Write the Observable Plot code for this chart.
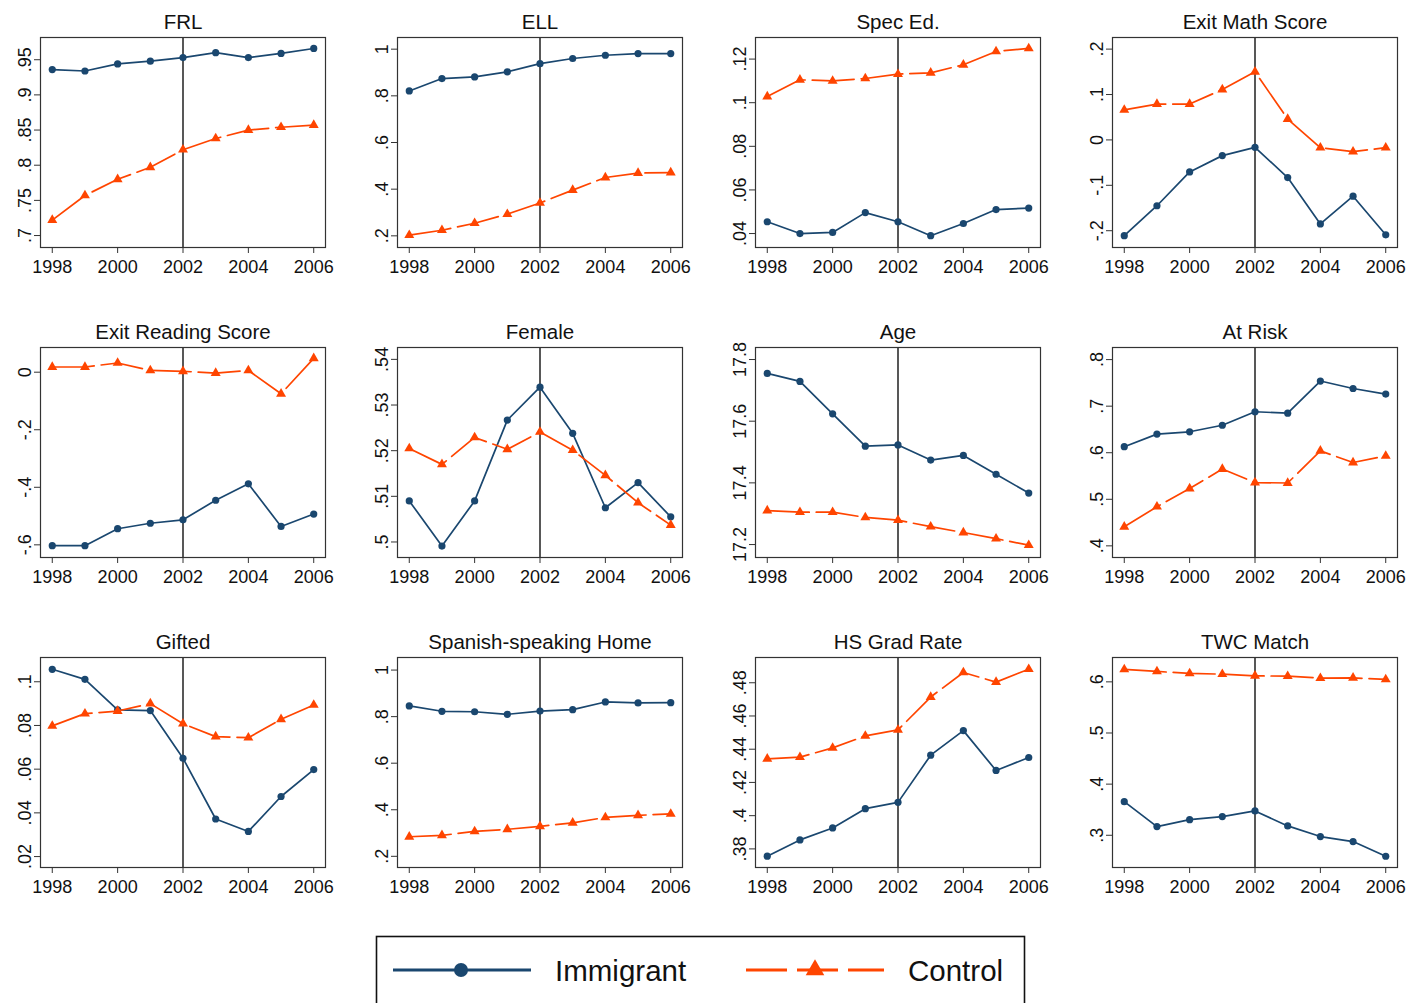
<!DOCTYPE html>
<html>
<head>
<meta charset="utf-8">
<script src="https://cdn.jsdelivr.net/npm/d3@7"></script>
<script src="https://cdn.jsdelivr.net/npm/@observablehq/plot@0.6"></script>
<style>
  html, body { margin: 0; padding: 0; background: #fff; }
  #chart { position: relative; width: 1409px; height: 1003px; overflow: hidden;
           font-family: "Liberation Sans", Arial, Helvetica, sans-serif; color: #111; }
  .panel { position: absolute; }
  #legend { position: absolute; left: 0; top: 900px; }
</style>
</head>
<body>
<div id="chart"></div>
<script>
// School years and the policy change year
const years = [1998, 1999, 2000, 2001, 2002, 2003, 2004, 2005, 2006];
const xTicks = [1998, 2000, 2002, 2004, 2006];
const policyYear = 2002;

const seriesNames = ["Immigrant", "Control"];

// Panel titles
const titles = ["FRL", "ELL", "Spec Ed.", "Exit Math Score",
                "Exit Reading Score", "Female", "Age", "At Risk",
                "Gifted", "Spanish-speaking Home", "HS Grad Rate", "TWC Match"];

// Group means by year
const frlImmigrant = [0.936, 0.934, 0.944, 0.948, 0.953, 0.960, 0.953, 0.959, 0.966];
const frlControl   = [0.722, 0.757, 0.780, 0.797, 0.822, 0.838, 0.850, 0.854, 0.857];
const ellImmigrant = [0.821, 0.874, 0.881, 0.903, 0.938, 0.960, 0.974, 0.981, 0.981];
const ellControl   = [0.203, 0.224, 0.254, 0.293, 0.341, 0.396, 0.450, 0.469, 0.471];
const specImmigrant = [0.0454, 0.0400, 0.0405, 0.0496, 0.0454, 0.0390, 0.0446, 0.0510, 0.0517];
const specControl   = [0.1028, 0.1105, 0.1100, 0.1111, 0.1131, 0.1137, 0.1174, 0.1235, 0.1249];
const mathImmigrant = [-0.211, -0.145, -0.0705, -0.0346, -0.0163, -0.083, -0.185, -0.124, -0.209];
const mathControl   = [0.066, 0.079, 0.079, 0.111, 0.150, 0.046, -0.017, -0.026, -0.017];
const readImmigrant = [-0.603, -0.603, -0.544, -0.525, -0.513, -0.445, -0.388, -0.536, -0.493];
const readControl   = [0.018, 0.018, 0.032, 0.006, 0.003, -0.003, 0.006, -0.075, 0.048];
const femaleImmigrant = [0.509, 0.4991, 0.509, 0.5267, 0.5339, 0.5238, 0.5075, 0.513, 0.5055];
const femaleControl   = [0.5205, 0.517, 0.5229, 0.5203, 0.5241, 0.5201, 0.5146, 0.5086, 0.5037];
const ageImmigrant = [17.755, 17.729, 17.624, 17.519, 17.523, 17.474, 17.489, 17.428, 17.367];
const ageControl   = [17.310, 17.305, 17.305, 17.288, 17.279, 17.258, 17.239, 17.219, 17.198];
const riskImmigrant = [0.613, 0.640, 0.645, 0.659, 0.688, 0.685, 0.754, 0.738, 0.726];
const riskControl   = [0.441, 0.484, 0.523, 0.565, 0.536, 0.535, 0.604, 0.579, 0.593];
const giftedImmigrant = [0.1057, 0.1011, 0.0871, 0.0868, 0.065, 0.0372, 0.0315, 0.0475, 0.0598];
const giftedControl   = [0.0798, 0.0854, 0.0866, 0.0900, 0.0808, 0.0749, 0.0744, 0.0828, 0.0894];
const spanishImmigrant = [0.846, 0.823, 0.821, 0.810, 0.824, 0.830, 0.863, 0.859, 0.860];
const spanishControl   = [0.284, 0.290, 0.307, 0.316, 0.329, 0.344, 0.367, 0.376, 0.382];
const gradImmigrant = [0.3756, 0.3854, 0.3926, 0.4042, 0.408, 0.4364, 0.4512, 0.4272, 0.435];
const gradControl   = [0.4342, 0.4352, 0.4408, 0.448, 0.4516, 0.4714, 0.4862, 0.4804, 0.4882];
const twcImmigrant = [0.3657, 0.317, 0.3306, 0.3365, 0.3476, 0.3183, 0.2975, 0.2877, 0.259];
const twcControl   = [0.6242, 0.6203, 0.6164, 0.615, 0.6117, 0.6111, 0.6072, 0.6078, 0.6047];

// Y-axis tick labels per panel
const frlTicks = [0.7, 0.75, 0.8, 0.85, 0.9, 0.95];
const ellTicks = [0.2, 0.4, 0.6, 0.8, 1];
const specTicks = [0.04, 0.06, 0.08, 0.1, 0.12];
const mathTicks = [-0.2, -0.1, 0, 0.1, 0.2];
const readTicks = [-0.6, -0.4, -0.2, 0];
const femaleTicks = [0.5, 0.51, 0.52, 0.53, 0.54];
const ageTicks = [17.2, 17.4, 17.6, 17.8];
const riskTicks = [0.4, 0.5, 0.6, 0.7, 0.8];
const giftedTicks = [0.02, 0.04, 0.06, 0.08, 0.1];
const spanishTicks = [0.2, 0.4, 0.6, 0.8, 1];
const gradTicks = [0.38, 0.4, 0.42, 0.44, 0.46, 0.48];
const twcTicks = [0.3, 0.4, 0.5, 0.6];

// Scale extents (plot region) per panel
const yExtents = [
  [0.683, 0.9816], [0.15, 1.05], [0.0336, 0.1299], [-0.237, 0.2256],
  [-0.644, 0.0858], [0.4966, 0.5426], [17.158, 17.839], [0.375, 0.826],
  [0.015, 0.1111], [0.152, 1.054], [0.3688, 0.4952], [0.237, 0.6476]
];

const immigrantSeries = [frlImmigrant, ellImmigrant, specImmigrant, mathImmigrant,
  readImmigrant, femaleImmigrant, ageImmigrant, riskImmigrant,
  giftedImmigrant, spanishImmigrant, gradImmigrant, twcImmigrant];
const controlSeries = [frlControl, ellControl, specControl, mathControl,
  readControl, femaleControl, ageControl, riskControl,
  giftedControl, spanishControl, gradControl, twcControl];
const tickSets = [frlTicks, ellTicks, specTicks, mathTicks, readTicks, femaleTicks,
  ageTicks, riskTicks, giftedTicks, spanishTicks, gradTicks, twcTicks];

const NAVY = "#1a476f";
const ORANGE = "#ff4500";
const DASH = "42,7";
const FONT = '"Liberation Sans", Arial, Helvetica, sans-serif';

// Stata-style numbers: drop the leading zero (".95", "-.2")
const fmt = v => String(+v.toFixed(4)).replace(/^(-?)0\./, "$1.");

const chart = document.getElementById("chart");

// Panel geometry
const FW = 285, FH = 210;
const ML = 40, MT = 37, MR = 12, MB = 35;

titles.forEach((title, i) => {
  const col = i % 4, row = Math.floor(i / 4);
  const frameLeft = 39.5 + col * 357.6;
  const frameTop = 36.7 + row * 310.3;

  const table = years.map((year, j) => ({
    year,
    immigrant: immigrantSeries[i][j],
    control: controlSeries[i][j]
  }));

  const svg = Plot.plot({
    width: ML + FW + MR,
    height: MT + FH + MB,
    marginLeft: ML, marginRight: MR, marginTop: MT, marginBottom: MB,
    style: { fontFamily: FONT, fontSize: "18px", color: "#111", background: "white", overflow: "visible" },
    x: { domain: [1997.64, 2006.36], label: null },
    y: { domain: yExtents[i], label: null },
    marks: [
      Plot.ruleX([policyYear], { stroke: "#111", strokeWidth: 1.4 }),
      Plot.line(table, { x: "year", y: "immigrant", stroke: NAVY, strokeWidth: 1.7 }),
      Plot.dot(table, { x: "year", y: "immigrant", fill: NAVY, r: 3.6 }),
      Plot.line(table, { x: "year", y: "control", stroke: ORANGE, strokeWidth: 1.7, strokeDasharray: DASH }),
      Plot.dot(table, { x: "year", y: "control", symbol: "triangle", fill: ORANGE, r: 3.7 }),
      Plot.frame({ stroke: "#333", strokeWidth: 1.2 }),
      Plot.axisX(xTicks, { tickSize: 6, tickPadding: 7, tickFormat: d => String(d), fontSize: 18, label: null, stroke: "#333" }),
      Plot.axisY(tickSets[i], { tickSize: 6, tickPadding: 3.3, tickRotate: -90, tickFormat: fmt, fontSize: 18, label: null, stroke: "#333" }),
      Plot.text([title], { frameAnchor: "top", lineAnchor: "middle", dy: -15, fontSize: 20.5, text: d => d, fill: "#111" })
    ]
  });
  svg.classList.add("panel");
  svg.style.left = (frameLeft - ML) + "px";
  svg.style.top = (frameTop - MT) + "px";
  chart.appendChild(svg);
});

// Legend box below the panels
const legend = d3.select(chart).append("svg")
  .attr("id", "legend")
  .attr("width", 1409)
  .attr("height", 103);

legend.append("rect")
  .attr("x", 376.5).attr("y", 36.5)
  .attr("width", 648).attr("height", 90)
  .attr("fill", "white").attr("stroke", "#111").attr("stroke-width", 1.6);

const keyY = 70;
// Immigrant key
legend.append("line")
  .attr("x1", 393).attr("x2", 531).attr("y1", keyY).attr("y2", keyY)
  .attr("stroke", NAVY).attr("stroke-width", 3);
legend.append("circle")
  .attr("cx", 461).attr("cy", keyY).attr("r", 7).attr("fill", NAVY);
legend.append("text")
  .attr("x", 555).attr("y", keyY + 11)
  .attr("font-family", FONT).attr("font-size", 29.5).attr("fill", "#111")
  .text(seriesNames[0]);

// Control key
legend.append("line")
  .attr("x1", 746).attr("x2", 884).attr("y1", keyY).attr("y2", keyY)
  .attr("stroke", ORANGE).attr("stroke-width", 3).attr("stroke-dasharray", "41,10");
legend.append("path")
  .attr("transform", `translate(815,${keyY})`)
  .attr("d", d3.symbol(d3.symbolTriangle, 150)())
  .attr("fill", ORANGE);
legend.append("text")
  .attr("x", 908).attr("y", keyY + 11)
  .attr("font-family", FONT).attr("font-size", 29.5).attr("fill", "#111")
  .text(seriesNames[1]);
</script>
</body>
</html>
